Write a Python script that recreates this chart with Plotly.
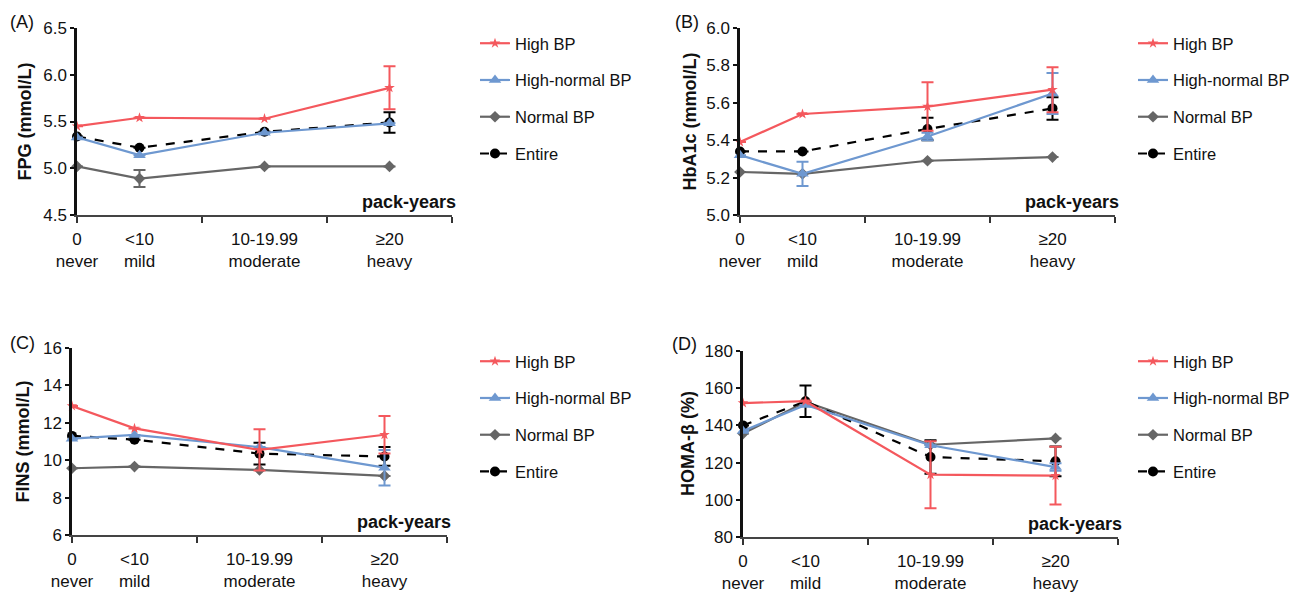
import plotly.graph_objects as go

# ---------------- data ----------------
categories = ["0<br>never", "<10<br>mild", "10-19.99<br>moderate", "≥20<br>heavy"]
cat_pos = [0, 1, 3, 5]
series_names = ["High BP", "High-normal BP", "Normal BP", "Entire"]

# (A) FPG   (None = error bar not visible in the figure)
fpg_high = [5.45, 5.54, 5.53, 5.86]
fpg_high_err = [None, None, None, 0.23]
fpg_hnorm = [5.33, 5.14, 5.38, 5.48]
fpg_hnorm_err = [None, None, None, None]
fpg_norm = [5.02, 4.89, 5.02, 5.02]
fpg_norm_err = [None, 0.09, None, None]
fpg_all = [5.34, 5.22, 5.39, 5.49]
fpg_all_err = [None, None, None, 0.11]

# (B) HbA1c
hba_high = [5.39, 5.54, 5.58, 5.67]
hba_high_err = [None, None, 0.13, 0.12]
hba_hnorm = [5.32, 5.22, 5.42, 5.65]
hba_hnorm_err = [None, 0.065, 0.02, 0.11]
hba_norm = [5.23, 5.22, 5.29, 5.31]
hba_norm_err = [None, None, None, None]
hba_all = [5.34, 5.34, 5.46, 5.57]
hba_all_err = [None, None, 0.06, 0.06]

# (C) FINS
fins_high = [12.9, 11.7, 10.55, 11.36]
fins_high_err = [None, None, 1.1, 1.0]
fins_hnorm = [11.15, 11.35, 10.7, 9.6]
fins_hnorm_err = [None, None, None, 0.95]
fins_norm = [9.57, 9.66, 9.48, 9.16]
fins_norm_err = [None, None, None, None]
fins_all = [11.3, 11.1, 10.35, 10.2]
fins_all_err = [None, None, 0.58, 0.5]

# (D) HOMA-beta
homa_high = [152, 153, 113.5, 113]
homa_high_err = [None, None, 18, 15.5]
homa_hnorm = [137, 151, 129.3, 117.6]
homa_hnorm_err = [None, None, None, 2]
homa_norm = [135.6, 152.6, 129.6, 133]
homa_norm_err = [None, None, None, None]
homa_all = [140, 153, 123, 120.7]
homa_all_err = [None, 8.5, 9, 8]

y_titles = ["FPG (mmol/L)", "HbA1c (mmol/L)", "FINS (mmol/L)", "HOMA-β (%)"]
panel_labels = ["(A)", "(B)", "(C)", "(D)"]
y_ranges = [[4.5, 6.5], [5.0, 6.0], [6, 16], [80, 180]]
y_dticks = [0.5, 0.2, 2, 20]
y_formats = [".1f", ".1f", "d", "d"]

# ---------------- style ----------------
OFF = 8                      # default page margin of the html body
W, H = 1299 - OFF, 594 - OFF
FONT = "Liberation Sans, Arial, sans-serif"
RED = "#F4585D"
BLUE = "#6E98D0"
GRAY = "#666666"
BLACK = "#000000"


def fx(px):
    return (px - OFF) / W


def fy(py):
    return 1 - (py - OFF) / H


styles = {
    "High BP": dict(color=RED, symbol="star", size=8, dash="solid"),
    "High-normal BP": dict(color=BLUE, symbol="triangle-up", size=11, dash="solid"),
    "Normal BP": dict(color=GRAY, symbol="diamond", size=9, dash="solid"),
    "Entire": dict(color=BLACK, symbol="circle", size=10, dash="dash"),
}

panels = [
    dict(high=(fpg_high, fpg_high_err), hnorm=(fpg_hnorm, fpg_hnorm_err),
         norm=(fpg_norm, fpg_norm_err), all=(fpg_all, fpg_all_err)),
    dict(high=(hba_high, hba_high_err), hnorm=(hba_hnorm, hba_hnorm_err),
         norm=(hba_norm, hba_norm_err), all=(hba_all, hba_all_err)),
    dict(high=(fins_high, fins_high_err), hnorm=(fins_hnorm, fins_hnorm_err),
         norm=(fins_norm, fins_norm_err), all=(fins_all, fins_all_err)),
    dict(high=(homa_high, homa_high_err), hnorm=(homa_hnorm, homa_hnorm_err),
         norm=(homa_norm, homa_norm_err), all=(homa_all, homa_all_err)),
]

# pixel geometry (screen px) of each plot area: (left, right, top, bottom)
boxes = [(77, 452, 28, 215), (740, 1115, 28, 215), (72, 447, 348, 535), (743, 1118, 351, 537)]
legend_pos = [(475, 26), (1133, 26), (475, 344), (1133, 344)]
label_pos = [(8, 22), (673, 22), (8, 343), (670, 344)]
ytitle_x = [25, 690, 22, 688]

fig = go.Figure()
layout = dict(
    width=W, height=H,
    margin=dict(l=0, r=0, t=0, b=0, autoexpand=False),
    paper_bgcolor="white", plot_bgcolor="white",
    font=dict(family=FONT, size=17, color="#111111"),
    annotations=[],
)

key_map = dict([("High BP", "high"), ("High-normal BP", "hnorm"), ("Normal BP", "norm"), ("Entire", "all")])
draw_order = ["Normal BP", "Entire", "High-normal BP", "High BP"]

for i, p in enumerate(panels):
    sfx = "" if i == 0 else str(i + 1)
    xa, ya = "x" + sfx, "y" + sfx
    leg = "legend" + sfx
    for name in draw_order:
        vals, errs = p[key_map[name]]
        st = styles[name]
        fig.add_trace(go.Scatter(
            x=cat_pos, y=vals, name=name, xaxis=xa, yaxis=ya,
            mode="lines+markers",
            line=dict(color=st["color"], width=2.2, dash=st["dash"]),
            marker=dict(color=st["color"], symbol=st["symbol"], size=st["size"]),
            error_y=dict(type="data", array=errs, visible=True, color=st["color"],
                         thickness=2, width=6),
            legend=leg, legendgroup=name + sfx,
            legendrank=series_names.index(name) + 1,
            cliponaxis=False,
        ))
    l, r, t, b = boxes[i]
    layout["xaxis" + sfx] = dict(
        domain=[fx(l), fx(r)], anchor=ya, range=[0, 6], automargin=False,
        tickmode="array", tickvals=cat_pos, ticktext=categories, ticks="",
        showline=True, linecolor="#444444", linewidth=1.8,
        showgrid=False, zeroline=False, ticklabelstandoff=8,
        tickfont=dict(size=17, family=FONT, color="#111111"),
        minor=dict(tickmode="array", tickvals=[0, 2, 4, 6], ticks="outside",
                   ticklen=6, tickwidth=1.5, tickcolor="#333333", showgrid=False),
    )
    layout["yaxis" + sfx] = dict(
        domain=[fy(b), fy(t)], anchor=xa, range=y_ranges[i], automargin=False,
        dtick=y_dticks[i], tick0=y_ranges[i][0], tickformat=y_formats[i],
        ticks="outside", ticklen=4, tickwidth=1.5, tickcolor="#111111",
        showline=True, linecolor="#111111", linewidth=2.5,
        showgrid=False, zeroline=False,
        tickfont=dict(size=17, family=FONT, color="#111111"),
    )
    layout["annotations"].append(dict(
        text="<b>" + y_titles[i] + "</b>", xref="paper", yref="paper",
        x=fx(ytitle_x[i]), y=fy((t + b) / 2), textangle=-90,
        showarrow=False, font=dict(size=18, family=FONT, color="#111111"),
        xanchor="center", yanchor="middle",
    ))
    layout["annotations"].append(dict(
        text=panel_labels[i], xref="paper", yref="paper",
        x=fx(label_pos[i][0]), y=fy(label_pos[i][1]),
        showarrow=False, font=dict(size=18, family=FONT, color="#111111"),
        xanchor="left", yanchor="middle",
    ))
    layout["annotations"].append(dict(
        text="<b>pack-years</b>", xref="paper", yref="paper",
        x=fx(r + 6), y=fy(b - 13),
        showarrow=False, font=dict(size=18, family=FONT, color="#111111"),
        xanchor="right", yanchor="middle",
    ))
    lx, ly = legend_pos[i]
    layout[leg] = dict(
        x=fx(lx), y=fy(ly), xanchor="left", yanchor="top",
        bgcolor="rgba(0,0,0,0)", tracegroupgap=12.3, traceorder="grouped",
        font=dict(size=16.5, family=FONT, color="#111111"),
    )

fig.update_layout(**layout)
fig.write_html("out.html")
